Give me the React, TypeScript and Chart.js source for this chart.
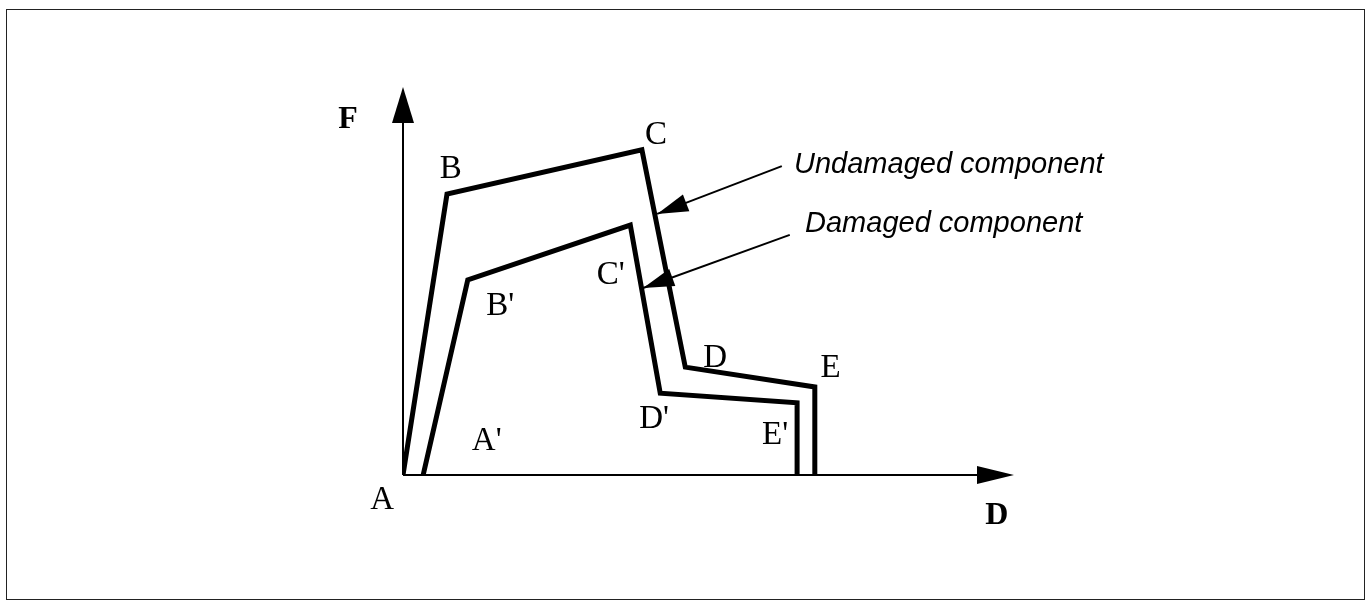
import React, { useEffect, useRef } from "react";
import { Chart, registerables } from "chart.js";

Chart.register(...registerables);

// Force-displacement curves (D on x, F on y)
const undamagedD = [0, 7.2, 39.1, 46.2, 67.4, 67.4];
const undamagedF = [0, 72.4, 83.8, 27.8, 22.7, 0];
const damagedD = [3.3, 10.6, 37.2, 42.1, 64.5, 64.5];
const damagedF = [0, 50.3, 64.4, 21.1, 18.6, 0];

// Point labels (centered x, baseline y in data units)
const pointLabels = ["A", "B", "C", "D", "E", "A'", "B'", "C'", "D'", "E'"];
const pointLabelD = [-3.4, 7.8, 41.4, 51.1, 70.0, 13.7, 15.9, 34.0, 41.1, 60.9];
const pointLabelF = [-8.8, 76.5, 85.3, 27.8, 25.3, 6.4, 41.2, 49.2, 12.1, 8.0];

// Axis titles
const axisLabels = ["F", "D"];
const axisLabelD = [-9.0, 97.2];
const axisLabelF = [89.4, -12.6];

// Annotation callouts: text + arrow from tail to tip
const calloutTexts = ["Undamaged component", "Damaged component"];
const calloutTextD = [64.0, 65.8];
const calloutTextF = [77.8, 62.6];
const calloutTailD = [62.0, 63.3];
const calloutTailF = [79.6, 61.9];
const calloutTipD = [41.6, 39.3];
const calloutTipF = [67.3, 48.2];

const axisMax = 100;

function arrowHead(ctx: CanvasRenderingContext2D, x0: number, y0: number, x1: number, y1: number, len: number, halfW: number) {
  const ang = Math.atan2(y1 - y0, x1 - x0);
  const bx = x1 - len * Math.cos(ang);
  const by = y1 - len * Math.sin(ang);
  const px = -Math.sin(ang) * halfW;
  const py = Math.cos(ang) * halfW;
  ctx.beginPath();
  ctx.moveTo(x1, y1);
  ctx.lineTo(bx + px, by + py);
  ctx.lineTo(bx - px, by - py);
  ctx.closePath();
  ctx.fill();
}

const diagramPlugin = {
  id: "diagram",
  beforeDatasetsDraw(chart: any) {
    const ctx = chart.ctx as CanvasRenderingContext2D;
    const xs = chart.scales.x;
    const ys = chart.scales.y;
    const x0 = xs.getPixelForValue(0);
    const y0 = ys.getPixelForValue(0);
    const xTop = ys.getPixelForValue(axisMax);
    const xEnd = xs.getPixelForValue(axisMax);
    ctx.save();
    // frame
    ctx.strokeStyle = "#222";
    ctx.lineWidth = 1;
    ctx.strokeRect(6.5, 9.5, chart.width - 13, chart.height - 17);
    // axes
    ctx.strokeStyle = "#000";
    ctx.fillStyle = "#000";
    ctx.lineWidth = 2;
    ctx.beginPath();
    ctx.moveTo(x0, y0);
    ctx.lineTo(x0, xTop + 20);
    ctx.moveTo(x0, y0);
    ctx.lineTo(xEnd - 20, y0);
    ctx.stroke();
    arrowHead(ctx, x0, y0, x0, xTop, 36, 11);
    arrowHead(ctx, x0, y0, xEnd, y0, 37, 9);
    ctx.restore();
  },
  afterDatasetsDraw(chart: any) {
    const ctx = chart.ctx as CanvasRenderingContext2D;
    const xs = chart.scales.x;
    const ys = chart.scales.y;
    ctx.save();
    ctx.fillStyle = "#000";
    ctx.strokeStyle = "#000";
    // callout arrows
    for (let i = 0; i < calloutTexts.length; i++) {
      const tx = xs.getPixelForValue(calloutTailD[i]);
      const ty = ys.getPixelForValue(calloutTailF[i]);
      const hx = xs.getPixelForValue(calloutTipD[i]);
      const hy = ys.getPixelForValue(calloutTipF[i]);
      ctx.lineWidth = 2;
      ctx.beginPath();
      ctx.moveTo(tx, ty);
      ctx.lineTo(hx, hy);
      ctx.stroke();
      arrowHead(ctx, tx, ty, hx, hy, 31, 9);
    }
    // callout texts
    ctx.font = "italic 29px 'Liberation Sans', Arial, sans-serif";
    ctx.textAlign = "left";
    ctx.textBaseline = "alphabetic";
    for (let i = 0; i < calloutTexts.length; i++) {
      ctx.fillText(calloutTexts[i], xs.getPixelForValue(calloutTextD[i]), ys.getPixelForValue(calloutTextF[i]));
    }
    // point labels
    ctx.font = "33px 'Liberation Serif', 'Times New Roman', serif";
    ctx.textAlign = "center";
    for (let i = 0; i < pointLabels.length; i++) {
      ctx.fillText(pointLabels[i], xs.getPixelForValue(pointLabelD[i]), ys.getPixelForValue(pointLabelF[i]));
    }
    // axis titles
    ctx.font = "bold 32px 'Liberation Serif', 'Times New Roman', serif";
    for (let i = 0; i < axisLabels.length; i++) {
      ctx.fillText(axisLabels[i], xs.getPixelForValue(axisLabelD[i]), ys.getPixelForValue(axisLabelF[i]));
    }
    ctx.restore();
  },
};

export default function App() {
  const ref = useRef<HTMLCanvasElement | null>(null);
  useEffect(() => {
    if (!ref.current) return;
    const toPts = (xs: number[], ys: number[]) => xs.map((x, i) => ({ x, y: ys[i] }));
    const chart = new Chart(ref.current, {
      type: "scatter",
      data: {
        datasets: [
          {
            label: "Undamaged component",
            data: toPts(undamagedD, undamagedF),
            showLine: true,
            borderColor: "#000",
            borderWidth: 5,
            borderJoinStyle: "miter",
            borderCapStyle: "butt",
            pointRadius: 0,
            fill: false,
            tension: 0,
          } as any,
          {
            label: "Damaged component",
            data: toPts(damagedD, damagedF),
            showLine: true,
            borderColor: "#000",
            borderWidth: 5,
            borderJoinStyle: "miter",
            borderCapStyle: "butt",
            pointRadius: 0,
            fill: false,
            tension: 0,
          } as any,
        ],
      },
      options: {
        animation: false,
        responsive: false,
        devicePixelRatio: 1,
        layout: { padding: { left: 403, right: 357, top: 87, bottom: 132 } },
        plugins: { legend: { display: false }, tooltip: { enabled: false } },
        events: [],
        scales: {
          x: { type: "linear", min: 0, max: axisMax, display: false },
          y: { type: "linear", min: 0, max: axisMax, display: false },
        },
      },
      plugins: [diagramPlugin],
    });
    return () => chart.destroy();
  }, []);
  return (
    <div style={{ position: "fixed", left: 0, top: 0, width: 1371, height: 607, background: "#fff" }}>
      <canvas ref={ref} width={1371} height={607} style={{ display: "block" }} />
    </div>
  );
}
